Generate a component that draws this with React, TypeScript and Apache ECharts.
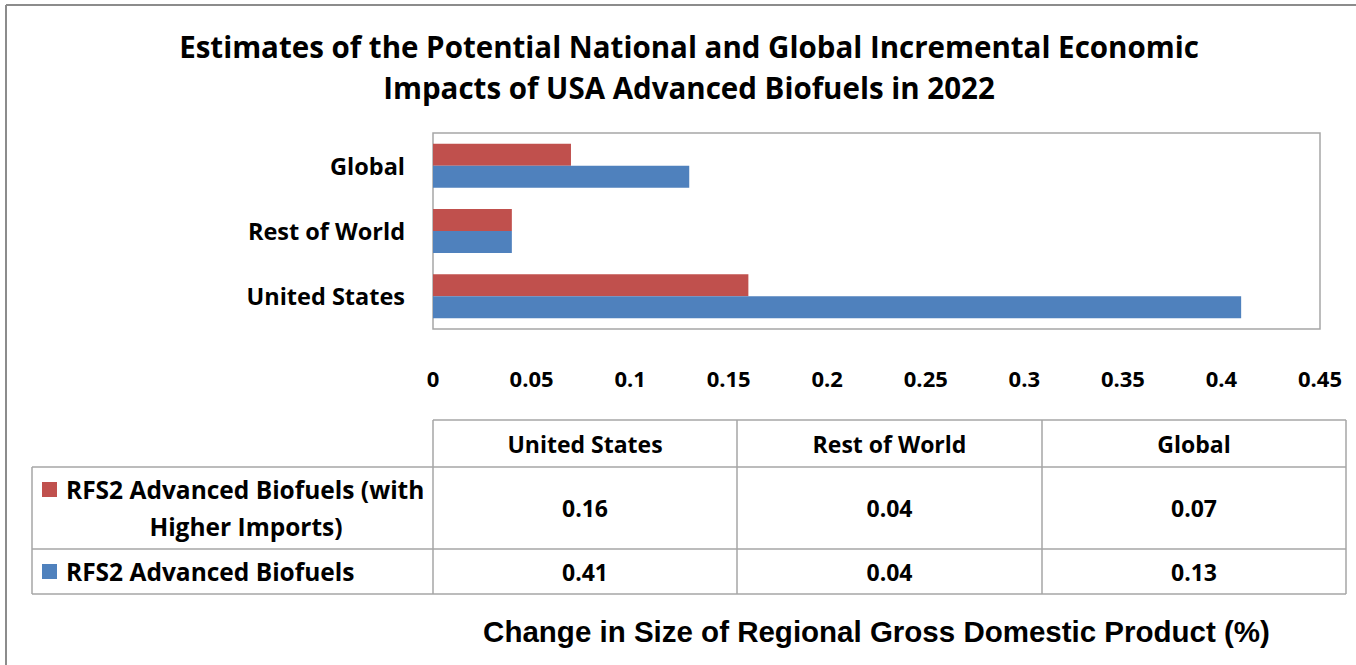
import React, { useEffect, useRef } from "react";
import * as echarts from "echarts";

const categories = ["United States", "Rest of World", "Global"];
const seriesNames = ["RFS2 Advanced Biofuels (with Higher Imports)", "RFS2 Advanced Biofuels"];
const higherImports = [0.16, 0.04, 0.07];
const advanced = [0.41, 0.04, 0.13];
const tableRowLabels = [["RFS2 Advanced Biofuels (with", "Higher Imports)"], ["RFS2 Advanced Biofuels"]];
const titleLines = [
  "Estimates of the Potential National and Global Incremental Economic",
  "Impacts of USA Advanced Biofuels in 2022",
];
const xAxisTitle = "Change in Size of Regional Gross Domestic Product (%)";

const RED = "#C0504D";
const BLUE = "#4F81BD";
const LINE = "#a6a6a6";
const CAL = "'Open Sans', Lato, sans-serif";

export default function App() {
  const ref = useRef<HTMLDivElement>(null);
  useEffect(() => {
    document.body.style.margin = "0";
    const chart = echarts.init(ref.current!, null, { renderer: "svg" });

    const colX = [433, 737, 1042, 1346];
    const tableLeft = 32;
    const rowY = [420, 467, 549, 594];
    const graphics: any[] = [];
    graphics.push({ type: "line", shape: { x1: 6, y1: 5, x2: 1356, y2: 5 }, style: { stroke: "#8c8c8c", lineWidth: 2 } });
    graphics.push({ type: "line", shape: { x1: 6, y1: 5, x2: 6, y2: 665 }, style: { stroke: "#8c8c8c", lineWidth: 2 } });
    titleLines.forEach((t, i) => {
      graphics.push({
        type: "text", x: 689, y: 46 + i * 41,
        style: { text: t, fill: "#000", font: `bold 29.5px ${CAL}`, align: "center", verticalAlign: "middle" },
      });
    });
    graphics.push({ type: "line", shape: { x1: colX[0], y1: rowY[0], x2: colX[3], y2: rowY[0] }, style: { stroke: LINE, lineWidth: 1.5 } });
    for (let r = 1; r < rowY.length; r++) {
      graphics.push({ type: "line", shape: { x1: tableLeft, y1: rowY[r], x2: colX[3], y2: rowY[r] }, style: { stroke: LINE, lineWidth: 1.5 } });
    }
    graphics.push({ type: "line", shape: { x1: tableLeft, y1: rowY[1], x2: tableLeft, y2: rowY[3] }, style: { stroke: LINE, lineWidth: 1.5 } });
    colX.forEach((x) => {
      graphics.push({ type: "line", shape: { x1: x, y1: rowY[0], x2: x, y2: rowY[3] }, style: { stroke: LINE, lineWidth: 1.5 } });
    });
    categories.forEach((c, i) => {
      graphics.push({
        type: "text", x: (colX[i] + colX[i + 1]) / 2, y: (rowY[0] + rowY[1]) / 2,
        style: { text: c, fill: "#000", font: `bold 23px ${CAL}`, align: "center", verticalAlign: "middle" },
      });
    });
    const rowData = [higherImports, advanced];
    const rowColors = [RED, BLUE];
    rowData.forEach((vals, r) => {
      const yc = (rowY[r + 1] + rowY[r + 2]) / 2;
      vals.forEach((v, i) => {
        graphics.push({
          type: "text", x: (colX[i] + colX[i + 1]) / 2, y: yc,
          style: { text: v.toFixed(2), fill: "#000", font: `bold 23px ${CAL}`, align: "center", verticalAlign: "middle" },
        });
      });
      const lines = tableRowLabels[r];
      const lineH = 37;
      const firstY = yc - ((lines.length - 1) * lineH) / 2;
      graphics.push({
        type: "rect", shape: { x: 42, y: firstY - 7.5, width: 15, height: 15 },
        style: { fill: rowColors[r] },
      });
      lines.forEach((ln, k) => {
        if (k === 0) {
          graphics.push({
            type: "text", x: 66, y: firstY,
            style: { text: ln, fill: "#000", font: `bold 24.5px ${CAL}`, align: "left", verticalAlign: "middle" },
          });
        } else {
          graphics.push({
            type: "text", x: 246, y: firstY + k * lineH,
            style: { text: ln, fill: "#000", font: `bold 24.5px ${CAL}`, align: "center", verticalAlign: "middle" },
          });
        }
      });
    });

    chart.setOption({
      animation: false,
      backgroundColor: "#fff",
      grid: { left: 433, right: 36, top: 133, bottom: 336, show: true, borderColor: LINE, borderWidth: 1.5, backgroundColor: "#fff" },
      xAxis: {
        type: "value", min: 0, max: 0.45, interval: 0.05,
        axisLine: { show: false }, axisTick: { show: false }, splitLine: { show: false },
        axisLabel: {
          margin: 38, color: "#000", fontFamily: CAL, fontWeight: "bold", fontSize: 22,
          formatter: (v: number) => String(parseFloat(v.toFixed(2))),
        },
        name: xAxisTitle, nameLocation: "middle", nameGap: 287,
        nameTextStyle: { color: "#000", fontFamily: "'Liberation Sans', Arial, sans-serif", fontSize: 29.5, fontWeight: "bold" },
      },
      yAxis: {
        type: "category", data: categories,
        axisLine: { show: false }, axisTick: { show: false }, splitLine: { show: false },
        axisLabel: { margin: 28, color: "#000", fontFamily: CAL, fontWeight: "bold", fontSize: 23.5 },
      },
      series: [
        { name: seriesNames[0], type: "bar", data: higherImports, barWidth: 22, barGap: "0%", itemStyle: { color: RED } },
        { name: seriesNames[1], type: "bar", data: advanced, barWidth: 22, barGap: "0%", itemStyle: { color: BLUE } },
      ],
      graphic: graphics,
    });
    return () => chart.dispose();
  }, []);
  return <div ref={ref} style={{ position: "absolute", left: 0, top: 0, width: 1356, height: 665 }} />;
}
